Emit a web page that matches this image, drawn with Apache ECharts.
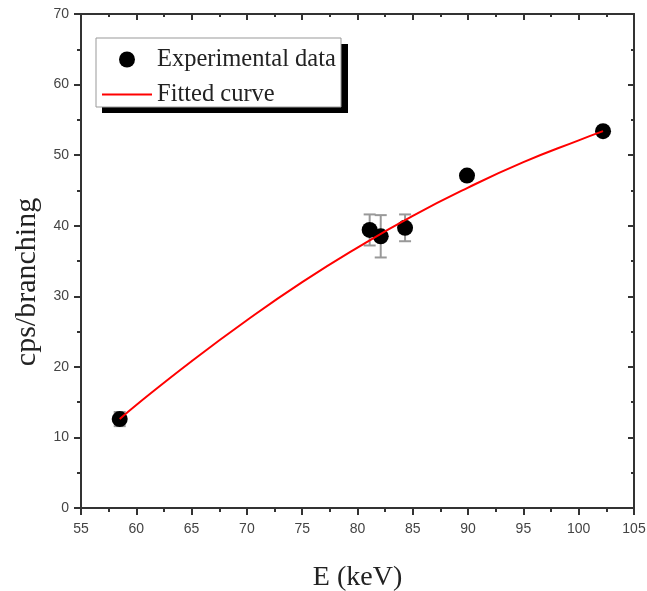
<!DOCTYPE html>
<html>
<head>
<meta charset="utf-8">
<script src="https://cdn.jsdelivr.net/npm/echarts@6/dist/echarts.min.js"></script>
<style>
html,body{margin:0;padding:0;background:#fff;}
#main{width:647px;height:591px;}
</style>
</head>
<body>
<div id="main"></div>
<script>
// measured points (keV, cps/branching) and their error bars
var expE = [58.5, 81.1, 82.1, 84.3, 89.9, 102.2];
var expY = [12.6, 39.4, 38.5, 39.7, 47.1, 53.4];
var expErr = [1.0, 2.2, 3.0, 1.9, 0.6, 0.6];

// fitted curve
var fitE = [58.5, 60, 65, 70, 75, 80, 85, 90, 95, 100, 102.2];
var fitY = [12.6, 14.6, 20.8, 26.6, 32.0, 36.9, 41.4, 45.4, 49.0, 52.1, 53.4];

var xTicks = [55, 60, 65, 70, 75, 80, 85, 90, 95, 100, 105];
var yTicks = [0, 10, 20, 30, 40, 50, 60, 70];

var scatterData = [], errData = [], fitData = [];
for (var i = 0; i < expE.length; i++) {
	scatterData.push([expE[i], expY[i]]);
	errData.push([expE[i], expY[i] - expErr[i], expY[i] + expErr[i]]);
}
for (var j = 0; j < fitE.length; j++) {
	fitData.push([fitE[j], fitY[j]]);
}

var axisCol = '#333';
var labelFont = { color: '#444', fontSize: 14, fontFamily: 'Liberation Sans' };

var myChart = echarts.init(document.getElementById('main'));
var option = {
	animation: false,
	grid: { left: 81, right: 13, top: 14, bottom: 83, outerBoundsMode: 'none', containLabel: false },
	graphic: [
		// legend frame with its drop shadow
		{ type: 'rect', z: 5, shape: { x: 102, y: 44, width: 246, height: 69 }, style: { fill: '#000' } },
		{ type: 'rect', z: 6, shape: { x: 96, y: 38, width: 245, height: 69 }, style: { fill: '#fff', stroke: '#999', lineWidth: 1 } },
		// y axis title, sits a bit below the middle in the original
		{
			type: 'text', z: 10, x: 27, y: 282, rotation: Math.PI / 2,
			style: {
				text: 'cps/branching', fill: '#222',
				font: '30px "Liberation Serif"',
				align: 'center', verticalAlign: 'middle'
			}
		}
	],
	legend: {
		orient: 'vertical',
		left: 102, top: 47,
		z: 10,
		padding: 0,
		itemGap: 10,
		itemWidth: 50, itemHeight: 16,
		textStyle: { fontFamily: 'Liberation Serif', fontSize: 24.5, color: '#222' },
		data: [
			{ name: 'Experimental data', icon: 'circle', itemStyle: { color: '#000' } },
			{ name: 'Fitted curve', icon: 'path://M0,0 H50 V2 H0 Z', itemStyle: { color: '#f00' } }
		]
	},
	xAxis: [{
		type: 'value', min: 55, max: 105, interval: 5,
		name: 'E (keV)', nameLocation: 'middle', nameGap: 56,
		nameTextStyle: { fontFamily: 'Liberation Serif', fontSize: 28, color: '#222' },
		axisLine: { onZero: false, lineStyle: { color: axisCol, width: 2 } },
		axisTick: { inside: false, length: 7, lineStyle: { color: axisCol, width: 2 } },
		minorTick: { show: true, splitNumber: 2, length: 4, lineStyle: { color: axisCol, width: 2 } },
		axisLabel: Object.assign({ margin: 14 }, labelFont),
		splitLine: { show: false }
	}, {
		type: 'value', position: 'top', min: 55, max: 105, interval: 5,
		axisLine: { show: true, onZero: false, lineStyle: { color: axisCol, width: 2 } },
		axisTick: { show: true, inside: true, length: 6, lineStyle: { color: axisCol, width: 2 } },
		minorTick: { show: true, splitNumber: 2, length: 3, lineStyle: { color: axisCol, width: 2 } },
		axisLabel: { show: false },
		splitLine: { show: false }
	}],
	yAxis: [{
		type: 'value', min: 0, max: 70, interval: 10,
		axisLine: { show: true, onZero: false, lineStyle: { color: axisCol, width: 2 } },
		axisTick: { show: true, inside: false, length: 7, lineStyle: { color: axisCol, width: 2 } },
		minorTick: { show: true, splitNumber: 2, length: 4, lineStyle: { color: axisCol, width: 2 } },
		axisLabel: Object.assign({ margin: 12 }, labelFont),
		splitLine: { show: false }
	}, {
		type: 'value', position: 'right', min: 0, max: 70, interval: 10,
		axisLine: { show: true, onZero: false, lineStyle: { color: axisCol, width: 2 } },
		axisTick: { show: true, inside: true, length: 6, lineStyle: { color: axisCol, width: 2 } },
		minorTick: { show: true, splitNumber: 2, length: 3, lineStyle: { color: axisCol, width: 2 } },
		axisLabel: { show: false },
		splitLine: { show: false }
	}],
	series: [{
		name: 'Error',
		type: 'custom',
		z: 1,
		renderItem: function (params, api) {
			var x = api.value(0);
			var lo = api.coord([x, api.value(1)]);
			var hi = api.coord([x, api.value(2)]);
			var w = 6;
			var st = { stroke: '#999', lineWidth: 2 };
			return {
				type: 'group',
				children: [
					{ type: 'line', shape: { x1: lo[0], y1: lo[1], x2: hi[0], y2: hi[1] }, style: st },
					{ type: 'line', shape: { x1: lo[0] - w, y1: lo[1], x2: lo[0] + w, y2: lo[1] }, style: st },
					{ type: 'line', shape: { x1: hi[0] - w, y1: hi[1], x2: hi[0] + w, y2: hi[1] }, style: st }
				]
			};
		},
		data: errData
	}, {
		name: 'Experimental data',
		type: 'scatter',
		z: 2,
		symbol: 'circle',
		symbolSize: 16,
		itemStyle: { color: '#000', opacity: 1 },
		data: scatterData
	}, {
		name: 'Fitted curve',
		type: 'line',
		z: 3,
		smooth: true,
		symbol: 'none',
		lineStyle: { color: '#f00', width: 2 },
		itemStyle: { color: '#f00' },
		data: fitData
	}]
};
myChart.setOption(option);
</script>
</body>
</html>
